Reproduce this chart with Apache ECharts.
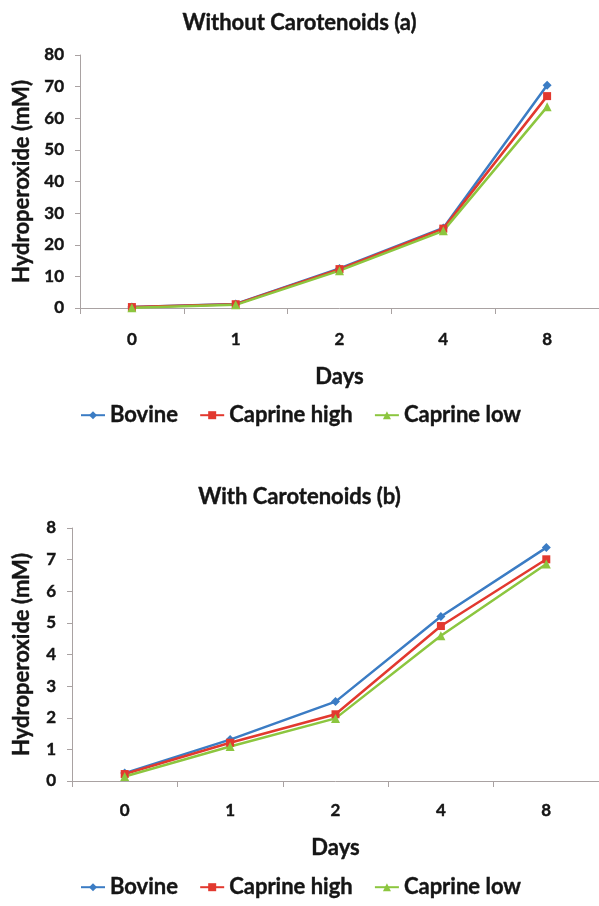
<!DOCTYPE html>
<html>
<head>
<meta charset="utf-8">
<script src="https://cdn.jsdelivr.net/npm/echarts@6/dist/echarts.min.js"></script>
<style>
  html, body { margin: 0; padding: 0; background: #fff; }
  #chart { width: 599px; height: 906px; }
</style>
</head>
<body>
<div id="chart"></div>
<script>
var days = ['0', '1', '2', '4', '8'];
var seriesNames = ['Bovine', 'Caprine high', 'Caprine low'];

// (a) without carotenoids
var bovineA = [0.3, 1.3, 12.5, 25.3, 70.4];
var capHighA = [0.3, 1.2, 12.3, 25.1, 67.0];
var capLowA = [0.1, 1.0, 11.8, 24.4, 63.6];

// (b) with carotenoids
var bovineB = [0.25, 1.31, 2.51, 5.2, 7.38];
var capHighB = [0.22, 1.21, 2.11, 4.9, 7.01];
var capLowB = [0.14, 1.09, 1.98, 4.59, 6.86];

var colors = ['#3b7cc4', '#e2392f', '#8cc63f'];
var symbols = ['diamond', 'rect', 'triangle'];
var font = 'Lato, "Open Sans", sans-serif';
var ink = '#151515';
var axisGrey = '#a9a2a2';

var chart = echarts.init(document.getElementById('chart'));

function txt(size) {
    return { fontFamily: font, fontWeight: 'bold', fontSize: size, color: ink,
             textBorderColor: ink, textBorderWidth: 0.4 };
}

function xAxis(gridIndex, labelMargin, nameGap) {
    return {
        type: 'category',
        gridIndex: gridIndex,
        data: days,
        name: 'Days',
        nameLocation: 'middle',
        nameGap: nameGap,
        nameTextStyle: txt(22),
        axisLine: { lineStyle: { color: axisGrey } },
        axisTick: { show: true, length: 6, lineStyle: { color: axisGrey } },
        axisLabel: Object.assign({ margin: labelMargin }, txt(17))
    };
}

function yAxis(gridIndex, max, interval, nameGap) {
    return {
        type: 'value',
        gridIndex: gridIndex,
        min: 0,
        max: max,
        interval: interval,
        name: 'Hydroperoxide (mM)',
        nameLocation: 'middle',
        nameGap: nameGap,
        nameTextStyle: txt(22),
        axisLine: { show: true, lineStyle: { color: axisGrey } },
        axisTick: { show: true, length: 5, lineStyle: { color: axisGrey } },
        splitLine: { show: false },
        axisLabel: Object.assign({ margin: 16 }, txt(17))
    };
}

function lineSeries(i, data, axisIndex) {
    return {
        name: seriesNames[i],
        type: 'line',
        xAxisIndex: axisIndex,
        yAxisIndex: axisIndex,
        data: data,
        symbol: symbols[i],
        symbolSize: i === 1 ? 8 : 9,
        lineStyle: { width: 2.5, color: colors[i] },
        itemStyle: { color: colors[i] }
    };
}

function legend(top) {
    return {
        top: top,
        left: 80,
        padding: 0,
        itemGap: 21,
        itemWidth: 24,
        itemHeight: 10,
        data: seriesNames,
        textStyle: txt(22)
    };
}

var option = {
    animation: false,
    color: colors,
    title: [
        { text: 'Without Carotenoids (a)', left: 'center', top: 7, textStyle: txt(22) },
        { text: 'With Carotenoids (b)', left: 'center', top: 481, textStyle: txt(22) }
    ],
    legend: [legend(404), legend(876)],
    grid: [
        { left: 80, right: 0, top: 55, height: 253 },
        { left: 72, right: 0, top: 528, height: 253 }
    ],
    xAxis: [xAxis(0, 23, 58), xAxis(1, 21, 56)],
    yAxis: [yAxis(0, 80, 10, 47), yAxis(1, 8, 1, 39)],
    series: [
        lineSeries(0, bovineA, 0),
        lineSeries(1, capHighA, 0),
        lineSeries(2, capLowA, 0),
        lineSeries(0, bovineB, 1),
        lineSeries(1, capHighB, 1),
        lineSeries(2, capLowB, 1)
    ]
};

chart.setOption(option);
window.onresize = chart.resize;
</script>
</body>
</html>
